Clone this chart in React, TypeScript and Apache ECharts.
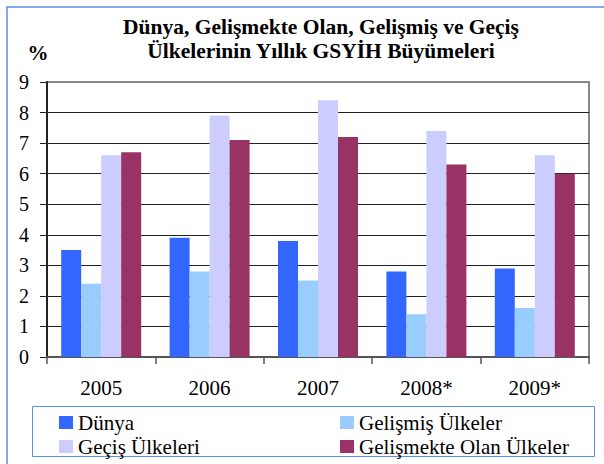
import React, { useEffect, useRef } from "react";
import * as echarts from "echarts";

const categories = ["2005", "2006", "2007", "2008*", "2009*"];
const dunya = [3.5, 3.9, 3.8, 2.8, 2.9];
const gelismis = [2.4, 2.8, 2.5, 1.4, 1.6];
const gecis = [6.6, 7.9, 8.4, 7.4, 6.6];
const gelismekte = [6.7, 7.1, 7.2, 6.3, 6.0];
const seriesNames = ["Dünya", "Gelişmiş Ülkeler", "Geçiş Ülkeleri", "Gelişmekte Olan Ülkeler"];
const seriesColors = ["#3366FF", "#99CCFF", "#CCCCFF", "#993366"];
const titleLines = ["Dünya, Gelişmekte Olan, Gelişmiş ve Geçiş", "Ülkelerinin Yıllık GSYİH Büyümeleri"];

const FONT = "Liberation Serif";

export default function App() {
  const ref = useRef<HTMLDivElement>(null);
  useEffect(() => {
    document.body.style.margin = "0";
    const chart = echarts.init(ref.current!, null, { renderer: "svg" });
    const values = [dunya, gelismis, gecis, gelismekte];
    const legendText = { fontFamily: FONT, fontSize: 21, color: "#000", lineHeight: 18 };
    chart.setOption({
      animation: false,
      backgroundColor: "#ffffff",
      textStyle: { fontFamily: FONT },
      title: {
        text: titleLines.join("\n"),
        left: 321,
        top: 15,
        textAlign: "center",
        padding: 0,
        textStyle: {
          fontFamily: FONT,
          fontSize: 21.5,
          fontWeight: "bold",
          color: "#000",
          lineHeight: 24,
        },
      },
      graphic: [
        {
          type: "rect",
          shape: { x: 7, y: 7, width: 700, height: 600 },
          style: { fill: "none", stroke: "#5B8DEF", lineWidth: 1.5 },
          silent: true,
        },
        {
          type: "rect",
          shape: { x: 32.5, y: 406.5, width: 562, height: 50 },
          style: { fill: "none", stroke: "#5B8DEF", lineWidth: 1 },
          silent: true,
        },
        {
          type: "text",
          x: 38,
          y: 53,
          style: {
            text: "%",
            fontFamily: FONT,
            fontSize: 21,
            fontWeight: "bold",
            fill: "#000",
            align: "center",
            verticalAlign: "middle",
          },
        },
      ],
      legend: [
        {
          data: [seriesNames[0], seriesNames[2]],
          orient: "vertical",
          left: 59,
          top: 412,
          padding: 0,
          itemWidth: 14,
          itemHeight: 13,
          itemGap: 3,
          icon: "rect",
          textStyle: legendText,
        },
        {
          data: [seriesNames[1], seriesNames[3]],
          orient: "vertical",
          left: 340,
          top: 412,
          padding: 0,
          itemWidth: 14,
          itemHeight: 13,
          itemGap: 3,
          icon: "rect",
          textStyle: legendText,
        },
      ],
      grid: {
        left: 47,
        top: 82,
        width: 542,
        height: 275,
        show: true,
        borderColor: "#888888",
        borderWidth: 2,
        backgroundColor: "transparent",
      },
      xAxis: {
        type: "category",
        data: categories,
        axisLine: { show: true, lineStyle: { color: "#555", width: 2 } },
        axisTick: { show: true, length: 7, lineStyle: { color: "#555", width: 1.5 } },
        axisLabel: { fontFamily: FONT, fontSize: 21, color: "#000", margin: 20 },
        splitLine: { show: false },
      },
      yAxis: {
        type: "value",
        min: 0,
        max: 9,
        interval: 1,
        axisLine: { show: true, lineStyle: { color: "#222", width: 2 } },
        axisTick: { show: true, length: 7, lineStyle: { color: "#222", width: 1 } },
        axisLabel: { fontFamily: FONT, fontSize: 20, color: "#000", margin: 18 },
        splitLine: { show: true, showMaxLine: false, lineStyle: { color: "#222", width: 1 } },
      },
      series: seriesNames.map((name, i) => ({
        name,
        type: "bar",
        data: values[i],
        barWidth: 20,
        barGap: "0%",
        itemStyle: { color: seriesColors[i] },
      })),
    });
    return () => chart.dispose();
  }, []);
  return <div ref={ref} style={{ width: 604, height: 464 }} />;
}
